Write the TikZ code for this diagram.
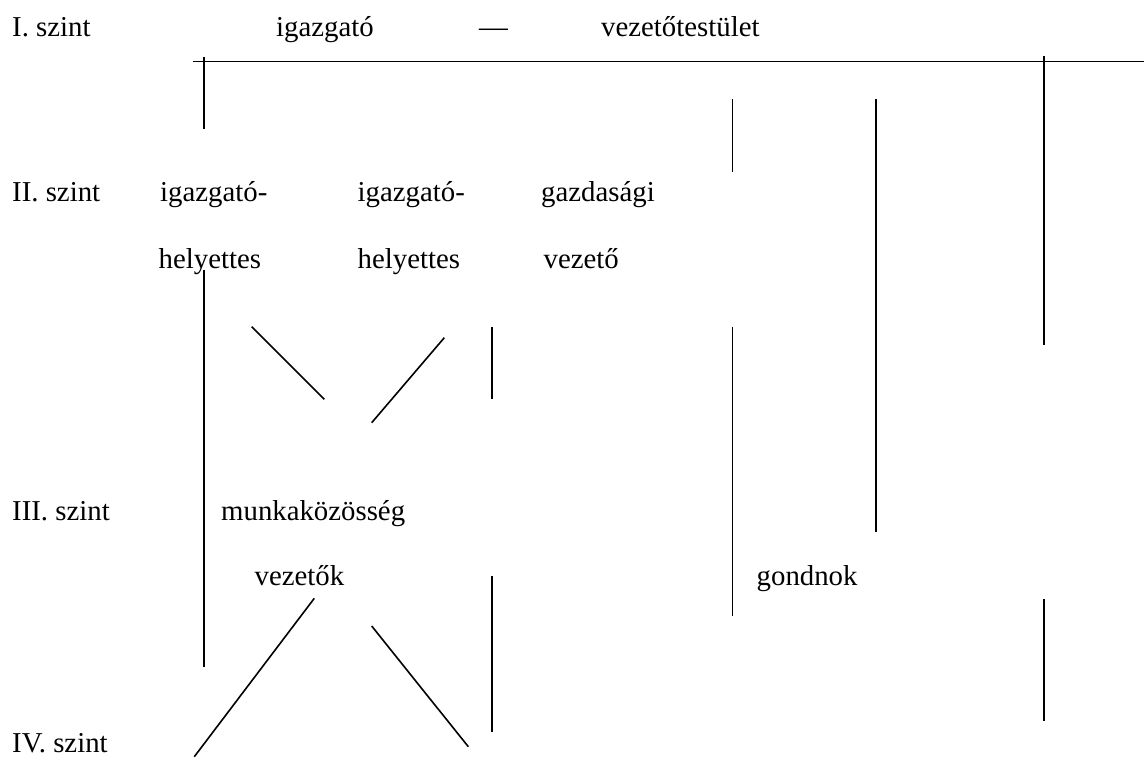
\documentclass[tikz,border=0pt]{standalone}
\usepackage{fontspec}
\setmainfont{Liberation Serif}
\begin{document}
\begin{tikzpicture}[x=1pt,y=-1pt,
  lbl/.style={anchor=base west,inner sep=0pt,font=\fontsize{28.8}{34}\selectfont},
  ln/.style={line width=1.6pt,line cap=butt}]
\useasboundingbox (0,0) rectangle (1144,758);
% level labels
\node[lbl] (l1) at (12,36) {I. szint};
\node[lbl] (l2) at (12,201.7) {II. szint};
\node[lbl] (l3) at (12,520) {III. szint};
\node[lbl] (l4) at (12,752.3) {IV. szint};
% level I
\node[lbl] (igaz) at (276,36) {igazgató};
\node[lbl] (dash) at (479,36) {—};
\node[lbl] (vt) at (601,36) {vezetőtestület};
% level II
\node[lbl] (ih1a) at (160,201.7) {igazgató-};
\node[lbl] (ih1b) at (158.5,268) {helyettes};
\node[lbl] (ih2a) at (357.5,201.7) {igazgató-};
\node[lbl] (ih2b) at (357.5,268) {helyettes};
\node[lbl] (gva) at (541,201.7) {gazdasági};
\node[lbl] (gvb) at (543.5,268) {vezető};
% level III
\node[lbl] (mka) at (221,520) {munkaközösség};
\node[lbl] (mkb) at (254.5,585) {vezetők};
\node[lbl] (gond) at (756.5,585) {gondnok};
% coordinates
\coordinate (h0) at (193.3,61.3);
\coordinate (h1) at (1144,61.3);
\coordinate (a0) at (204,56.7);   \coordinate (a1) at (204,129);
\coordinate (b0) at (204,270);    \coordinate (b1) at (204,667);
\coordinate (c0) at (251.7,326.7);\coordinate (c1) at (324.3,399.3);
\coordinate (d0) at (444.3,337.7);\coordinate (d1) at (371.7,422.7);
\coordinate (e0) at (492,326.7);  \coordinate (e1) at (492,399.3);
\coordinate (f0) at (314.3,598.3);\coordinate (f1) at (194.3,756.7);
\coordinate (g0) at (371.7,626);  \coordinate (g1) at (468.3,746.7);
\coordinate (i0) at (492,576);    \coordinate (i1) at (492,731.7);
\coordinate (j0) at (732.3,99.3); \coordinate (j1) at (732.3,172.3);
\coordinate (k0) at (732.3,326.7);\coordinate (k1) at (732.3,616);
\coordinate (m0) at (876,99.3);   \coordinate (m1) at (876,532.3);
\coordinate (n0) at (1044,56);    \coordinate (n1) at (1044,345);
\coordinate (p0) at (1044,599.3); \coordinate (p1) at (1044,720.7);
% lines
\draw[ln] (h0) -- (h1);
\draw[ln] (a0) -- (a1);
\draw[ln] (b0) -- (b1);
\draw[ln] (c0) -- (c1);
\draw[ln] (d0) -- (d1);
\draw[ln] (e0) -- (e1);
\draw[ln] (f0) -- (f1);
\draw[ln] (g0) -- (g1);
\draw[ln] (i0) -- (i1);
\draw[ln] (j0) -- (j1);
\draw[ln] (k0) -- (k1);
\draw[ln] (m0) -- (m1);
\draw[ln] (n0) -- (n1);
\draw[ln] (p0) -- (p1);
\end{tikzpicture}
\end{document}
